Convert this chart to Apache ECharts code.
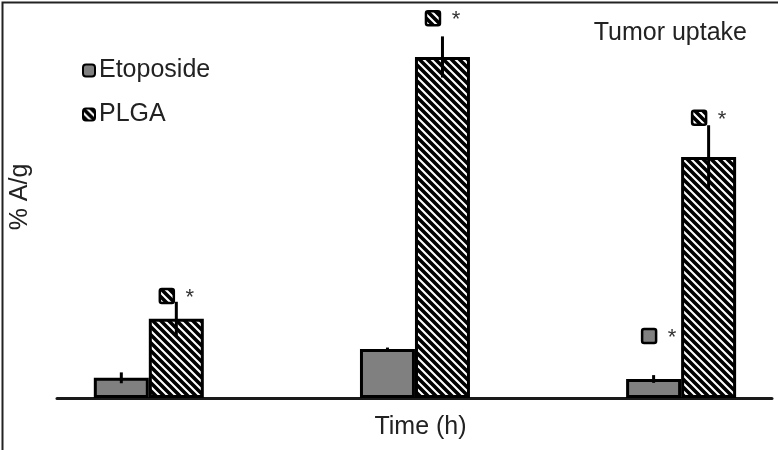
<!DOCTYPE html>
<html>
<head>
<meta charset="utf-8">
<script src="https://cdn.jsdelivr.net/npm/echarts@6/dist/echarts.min.js"></script>
<style>
html,body{margin:0;padding:0;background:#fff;}
#chart{width:778px;height:450px;}
</style>
</head>
<body>
<div id="chart"></div>
<script>
// ---- data ----
var categories = ['t1', 't2', 't3'];          // time points (unlabelled in the figure)
var etoposide = [0.52, 1.26, 0.49];
var etoposideErr = [0.14, 0.04, 0.10];
var plga = [2.04, 8.79, 6.21];
var plgaErr = [0.44, 0.53, 0.82];
// significance markers: [category index, level]
var plgaSig = [[0, 2.63], [1, 9.79], [2, 7.22]];
var etoposideSig = [[2, 1.60]];

// ---- hatch pattern ----
function hatch(size, lw) {
  var c = document.createElement('canvas');
  c.width = size; c.height = size;
  var g = c.getContext('2d');
  g.fillStyle = '#fff'; g.fillRect(0, 0, size, size);
  g.strokeStyle = '#000'; g.lineWidth = lw;
  g.beginPath();
  for (var k = -1; k <= 1; k++) {
    g.moveTo(k * size - 2, -2);
    g.lineTo(k * size + size + 2, size + 2);
  }
  g.stroke();
  return c;
}
var pat = { image: hatch(8, 3.6), repeat: 'repeat' };

var font = '"Liberation Sans", Arial, sans-serif';
var BAR_W = 55;

function errSeries(name, values, errs, offset) {
  return {
    type: 'custom',
    name: name + ' err',
    silent: true,
    z: 5,
    data: values.map(function (v, i) { return [i, v - errs[i], v + errs[i]]; }),
    renderItem: function (params, api) {
      var lo = api.coord([api.value(0), api.value(1)]);
      var hi = api.coord([api.value(0), api.value(2)]);
      var x = lo[0] + offset;
      return {
        type: 'line',
        shape: { x1: x, y1: lo[1], x2: x, y2: hi[1] },
        style: { stroke: '#000', lineWidth: 3 }
      };
    }
  };
}

function sigSeries(data, fill, offset) {
  return {
    type: 'custom',
    silent: true,
    z: 6,
    data: data,
    renderItem: function (params, api) {
      var p = api.coord([api.value(0), api.value(1)]);
      var cx = p[0] + offset, cy = p[1];
      return {
        type: 'group',
        children: [
          {
            type: 'rect',
            shape: { x: cx - 7, y: cy - 7, width: 14, height: 14, r: 2 },
            style: { fill: fill, stroke: '#000', lineWidth: 2.5 }
          },
          {
            type: 'text',
            style: {
              x: cx + 23, y: cy + 2, text: '*', align: 'center', verticalAlign: 'middle',
              font: '22px ' + font, fill: '#333'
            }
          }
        ]
      };
    }
  };
}

var chart = echarts.init(document.getElementById('chart'), null, { renderer: 'canvas' });
chart.setOption({
  animation: false,
  backgroundColor: '#fff',
  title: {
    text: 'Tumor uptake', right: 26, top: 16,
    textStyle: { fontFamily: font, fontSize: 25, fontWeight: 'normal', color: '#222' }
  },
  legend: {
    orient: 'vertical', left: 77, top: 53,
    itemWidth: 12, itemHeight: 12, itemGap: 19,
    icon: 'roundRect',
    data: ['Etoposide', 'PLGA'],
    itemStyle: { borderColor: '#000', borderWidth: 2 },
    textStyle: { fontFamily: font, fontSize: 25, color: '#222', padding: [0, 0, 8, -1] }
  },
  grid: { left: 56, right: 6, top: 10, bottom: 52 },
  xAxis: {
    type: 'value',
    min: -0.345, max: 2.3415,
    name: 'Time (h)', nameLocation: 'middle', nameGap: 17,
    nameTextStyle: { fontFamily: font, fontSize: 25, color: '#222', padding: [0, 0, 0, 12] },
    axisLine: { show: true, onZero: false, lineStyle: { color: '#1a1a1a', width: 3 } },
    axisTick: { show: false }, axisLabel: { show: false }, splitLine: { show: false }
  },
  yAxis: {
    type: 'value', min: 0, max: 10,
    name: '% A/g', nameLocation: 'middle', nameRotate: 90, nameGap: 24,
    nameTextStyle: { fontFamily: font, fontSize: 25, color: '#222', padding: [0, 0, 0, 14] },
    axisLine: { show: false }, axisTick: { show: false }, axisLabel: { show: false },
    splitLine: { show: false }
  },
  series: [
    {
      type: 'bar', name: 'Etoposide',
      data: etoposide.map(function (v, i) { return [i, v]; }),
      barWidth: BAR_W, barGap: '0%',
      itemStyle: { color: '#808080', borderColor: '#000', borderWidth: 3 }
    },
    {
      type: 'bar', name: 'PLGA',
      data: plga.map(function (v, i) { return [i, v]; }),
      barWidth: BAR_W, barGap: '0%',
      itemStyle: { color: pat, borderColor: '#000', borderWidth: 3 }
    },
    errSeries('Etoposide', etoposide, etoposideErr, -BAR_W / 2),
    errSeries('PLGA', plga, plgaErr, BAR_W / 2),
    sigSeries(plgaSig, pat, 18),
    sigSeries(etoposideSig, '#808080', -32)
  ],
  graphic: [{
    type: 'rect', left: 0, top: 0, silent: true, z: 100,
    shape: { width: 777, height: 449 },
    style: { fill: 'none', stroke: '#222', lineWidth: 2 }
  }]
});
</script>
</body>
</html>
